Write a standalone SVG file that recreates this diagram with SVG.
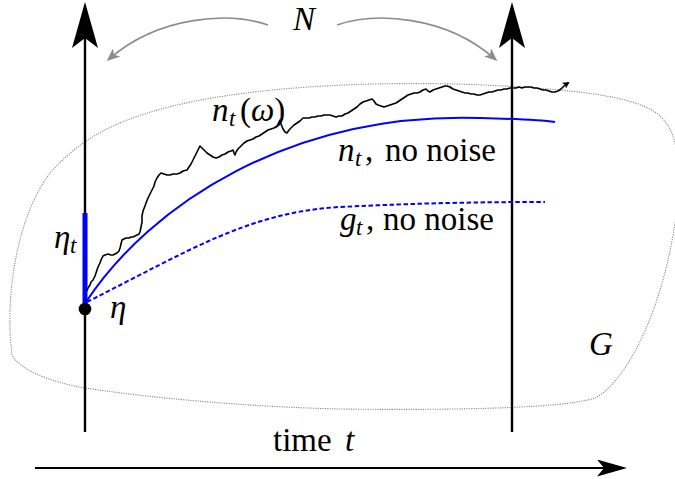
<svg xmlns="http://www.w3.org/2000/svg" width="675" height="479" viewBox="0 0 675 479">
<defs>
<style>
.t{font-family:"Liberation Serif","Times New Roman",serif;font-size:33px;fill:#000}
.i{font-style:italic}
.s{font-family:"Liberation Serif","Times New Roman",serif;font-size:23px;font-style:italic;fill:#000}
.ax{stroke:#000;stroke-width:2.4;fill:none}
.blob{stroke:#8a8a8a;stroke-width:1.1;stroke-dasharray:1.2 1.2;fill:none}
.gray{stroke:#8c8c8c;stroke-width:1.6;fill:none}
.blue{stroke:#0000ff;fill:none}
</style>
<marker id="bigArrow" markerUnits="userSpaceOnUse" markerWidth="46" markerHeight="26" refX="10" refY="13" orient="auto">
<path d="M46,13 L0,0 L10,13 L0,26 Z" fill="#000"/>
</marker>
<marker id="timeArrow" markerUnits="userSpaceOnUse" markerWidth="30" markerHeight="17" refX="7" refY="8.5" orient="auto">
<path d="M30,8.5 L0,0 L7,8.5 L0,17 Z" fill="#000"/>
</marker>
<marker id="grayArrow" markerUnits="userSpaceOnUse" markerWidth="13" markerHeight="11" refX="10" refY="5.5" orient="auto">
<path d="M13,5.5 L0,0 L3.5,5.5 L0,11 Z" fill="#8c8c8c"/>
</marker>
<marker id="tinyArrow" markerUnits="userSpaceOnUse" markerWidth="7" markerHeight="7" refX="5" refY="3.5" orient="auto">
<path d="M7,3.5 L0,0 L1.8,3.5 L0,7 Z" fill="#000"/>
</marker>
</defs>

<g id="region-G">
<path class="blob" d="M120,123 C220,80 420,80 520,87 C600,92 645,100 662,118 C690,145 678,230 660,290 C645,340 620,385 595,398 C560,410 420,410 340,409 C250,407 150,398 85,388 C50,382 20,370 12,355 C5,300 15,220 50,173 C70,150 95,133 120,123 Z"/>
<text class="t i" x="589" y="355">G</text>
</g>

<g id="axis-left">
<line class="ax" x1="85" y1="432" x2="85" y2="38" marker-end="url(#bigArrow)"/>
</g>

<g id="axis-right">
<line class="ax" x1="512" y1="432" x2="512" y2="38" marker-end="url(#bigArrow)"/>
</g>

<g id="time-axis">
<line stroke="#000" stroke-width="2" x1="35" y1="468" x2="604" y2="468" marker-end="url(#timeArrow)"/>
<text class="t" x="273" y="451">time</text>
<text class="t i" x="345" y="451">t</text>
</g>

<g id="g-t">
<path class="blue" stroke-width="2" stroke-dasharray="4.5 2.5" d="M87,302 C190,250 250,212 340,207 C420,203 480,202 545,202"/>
<text class="t i" x="340" y="230">g</text>
<text class="s" x="356" y="235">t</text>
<text class="t" x="366" y="230">,</text>
<text class="t" x="383" y="230">no noise</text>
</g>

<g id="n-t">
<path class="blue" stroke-width="2" d="M86,302 C150,205 290,112 480,118 C520,119 540,120 555,122"/>
<text class="t i" x="338" y="161">n</text>
<text class="s" x="355" y="166">t</text>
<text class="t" x="365" y="161">,</text>
<text class="t" x="385" y="161">no noise</text>
</g>

<g id="n-omega">
<path stroke="#000" stroke-width="1.6" fill="none" stroke-linejoin="round" marker-end="url(#tinyArrow)" d="M87,291 L88,288 L90,285 L91,282 L93,280 L95,276 L96,273 L97,270 L98,267 L100,263 L101,260 L103,256 L105,255 L108,254 L111,255 L113,255 L115,254 L117,253 L119,251 L120,248 L121,244 L122,240 L124,239 L126,238 L129,238 L131,237 L133,237 L135,236 L137,235 L139,234 L140,232 L141,227 L142,222 L142,216 L143,211 L145,206 L146,203 L148,198 L150,194 L152,190 L154,186 L155,182 L157,178 L159,175 L161,173 L164,174 L167,175 L170,175 L173,174 L177,174 L180,173 L183,171 L187,170 L189,167 L191,164 L193,160 L195,156 L197,152 L199,148 L200,146 L202,148 L205,151 L207,153 L210,155 L213,157 L216,158 L219,157 L222,155 L225,154 L228,152 L231,151 L233,150 L234,153 L235,155 L236,152 L238,149 L241,146 L244,143 L247,141 L250,140 L253,139 L256,137 L259,136 L262,134 L265,132 L268,130 L271,129 L274,128 L277,126 L279,122 L280,120 L281,124 L283,129 L285,132 L287,133 L289,130 L291,128 L294,125 L297,123 L300,121 L303,118 L306,118 L309,118 L312,117 L315,117 L318,116 L321,116 L324,115 L327,115 L330,115 L333,116 L336,117 L339,116 L342,116 L345,114 L348,113 L351,111 L354,109 L357,107 L360,104 L363,102 L366,101 L369,100 L372,99 L374,101 L376,104 L378,105 L381,106 L384,107 L387,106 L390,105 L393,104 L396,103 L399,101 L402,99 L405,97 L408,95 L411,94 L414,93 L417,93 L420,92 L423,90 L426,89 L428,91 L430,92 L433,90 L436,89 L439,88 L442,87 L445,86 L447,86 L450,87 L453,89 L456,90 L459,91 L462,92 L465,93 L468,93 L471,94 L474,94 L477,95 L480,95 L483,94 L486,93 L489,92 L492,92 L495,91 L498,90 L501,90 L504,89 L507,89 L510,88 L513,88 L516,88 L519,87 L522,88 L525,87 L528,87 L531,87 L534,88 L537,88 L540,89 L543,90 L546,90 L549,91 L552,92 L555,92 L558,91 L561,89 L563,87 L565,85 L568,83"/>
<text class="t i" x="212" y="121">n</text>
<text class="s" x="229" y="126">t</text>
<text class="t" x="240" y="121">(<tspan class="i">ω</tspan>)</text>
</g>

<g id="eta-t">
<line stroke="#0000ff" stroke-width="5" x1="85" y1="213" x2="85" y2="305"/>
<text class="t i" x="54" y="248">η</text>
<text class="s" x="70" y="253">t</text>
</g>

<g id="eta">
<circle cx="85" cy="309" r="6.3" fill="#000"/>
<text class="t i" x="110" y="318">η</text>
</g>

<g id="N-label">
<text class="t i" x="293" y="30">N</text>
</g>

<g id="connectors">
<path class="gray" marker-end="url(#grayArrow)" d="M268,25 C230,12 160,15 109,59"/>
<path class="gray" marker-end="url(#grayArrow)" d="M337,25 C375,12 445,15 495,59"/>
</g>
</svg>
